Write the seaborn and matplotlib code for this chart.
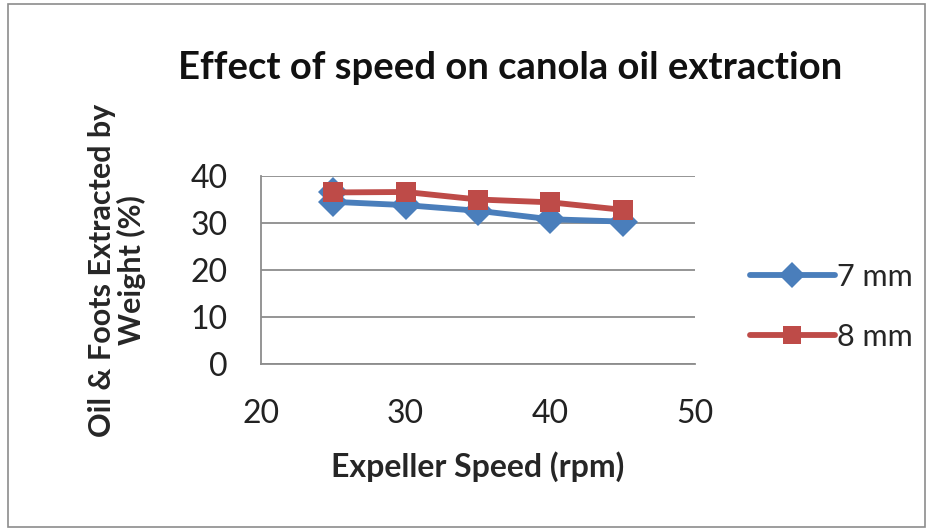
import pandas as pd
import matplotlib.pyplot as plt
import seaborn as sns
from matplotlib.patches import Rectangle

# values
speed_7mm = [25, 25, 30, 35, 40, 45]
oil_7mm = [36.5, 34.5, 33.8, 32.6, 30.8, 30.3]
speed_8mm = [25, 30, 35, 40, 45]
oil_8mm = [36.5, 36.6, 35.0, 34.4, 32.8]
series_names = ["7 mm", "8 mm"]
y_ticks = [0, 10, 20, 30, 40]
x_ticks = [20, 30, 40, 50]

sns.set_theme(style="white")
plt.rcParams["font.family"] = ["Lato", "DejaVu Sans"]

df = pd.concat([
    pd.DataFrame({"speed": speed_7mm, "oil": oil_7mm, "series": series_names[0]}),
    pd.DataFrame({"speed": speed_8mm, "oil": oil_8mm, "series": series_names[1]}),
])

fig = plt.figure(figsize=(9.35, 5.31), dpi=100)
ax = fig.add_axes([261 / 935, 1 - 364 / 531, (695 - 261) / 935, (364 - 176) / 531])

palette = {"7 mm": "#4A7EBB", "8 mm": "#BE4B48"}
markers = {"7 mm": "D", "8 mm": "s"}
sns.lineplot(data=df, x="speed", y="oil", hue="series", style="series",
             palette=palette, markers=markers, dashes=False, estimator=None,
             sort=False, linewidth=4.2, markersize=15, markeredgewidth=0, ax=ax)

ax.set_xlim(20, 50)
ax.set_ylim(0, 40)
ax.set_xticks(x_ticks)
ax.set_yticks(y_ticks)
ax.yaxis.grid(True, color="#8c8c8c", linewidth=1.3)
ax.xaxis.grid(False)
for side in ["top", "right"]:
    ax.spines[side].set_visible(False)
for side in ["left", "bottom"]:
    ax.spines[side].set_color("#8c8c8c")
    ax.spines[side].set_linewidth(1.3)
ax.tick_params(axis="y", labelsize=23, length=0, pad=24, colors="#222222")
ax.tick_params(axis="x", labelsize=23, length=0, pad=25, colors="#222222")

ax.set_xlabel("Expeller Speed (rpm)", fontsize=23, fontweight="bold", labelpad=16)
ax.set_ylabel("Oil & Foots Extracted by\nWeight (%)", fontsize=22, fontweight="bold",
              labelpad=32, linespacing=1.05)
fig.text(510 / 935, 1 - 68 / 531, "Effect of speed on canola oil extraction", ha="center",
         va="center", fontsize=27.5, fontweight="bold", color="#111111")

handles, labels = ax.get_legend_handles_labels()
for h in handles:
    h.set_markersize(13)
ax.legend(handles, labels, loc="center left", bbox_to_anchor=(722 / 935, 1 - 307 / 531),
          bbox_transform=fig.transFigure, frameon=False, fontsize=22,
          handlelength=2.8, handletextpad=0.05, labelspacing=1.05)

fig.patches.append(Rectangle((8 / 935, 4 / 531), 917 / 935, 523 / 531,
                             transform=fig.transFigure, fill=False,
                             edgecolor="#8c8c8c", linewidth=1.2))

plt.savefig("out.png", dpi=100)
plt.close()
